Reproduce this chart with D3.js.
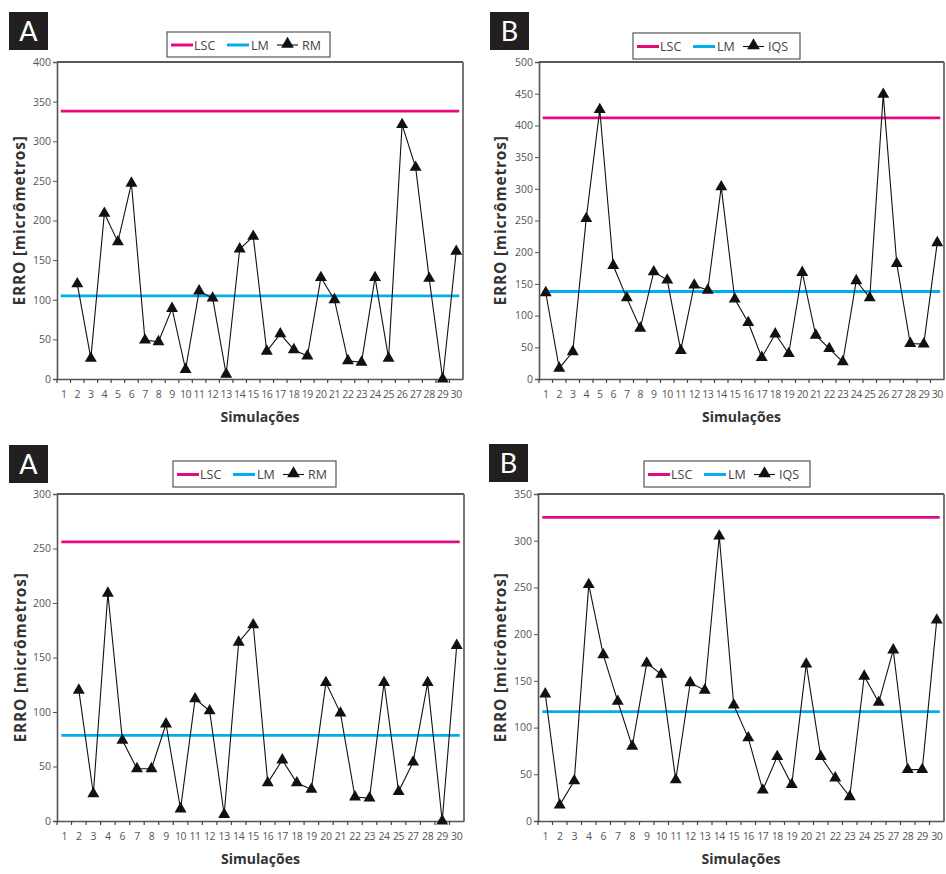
<!DOCTYPE html>
<html><head><meta charset="utf-8">
<script src="https://cdn.jsdelivr.net/npm/d3@7"></script>
<style>
html,body{margin:0;padding:0;background:#fff;}
svg{display:block;font-family:"Open Sans","DejaVu Sans",sans-serif;}
</style></head>
<body><svg id="c" width="946" height="874"></svg>
<script>
// ---- data ----
const simsFull = d3.range(1, 31).map(String);
const simsReduced = ["1","2","3","4","6","7","8","9","10","11","12","13","14","15","16","17","18","19","20","21","22","23","24","25","27","28","29","30"];

const rmFull = [null,120,26,209,173,247,49,47,89,12,111,102,6,164,180,35,57,37,29,128,100,23,21,128,26,321,267,127,0,161];
const iqsFull = [136,17,43,253,425,179,128,80,169,156,45,148,140,303,126,89,34,71,40,168,69,48,27,155,128,449,182,56,55,215];
const rmReduced = [null,120,25,209,74,48,48,89,11,112,101,6,164,180,35,56,35,29,127,99,22,21,127,27,54,127,0,161];
const iqsReduced = [136,17,43,253,178,128,80,169,157,44,148,140,305,124,89,33,69,39,168,69,46,26,155,127,183,55,55,215];

const lscValues = [338, 412, 256, 325];
const lmValues = [105, 138, 78.5, 117];
const yMaxValues = [400, 500, 300, 350];
const panelLetters = ["A", "B", "A", "B"];
const seriesNames = ["RM", "IQS", "RM", "IQS"];
const yTitle = "ERRO [micrômetros]";
const xTitle = "Simulações";

// ---- layout ----
const panels = [
  {cats: simsFull, vals: rmFull, box:[9,12], leg:[167,32,163,25], plot:[57,62,463,379], ytx:19},
  {cats: simsFull, vals: iqsFull, box:[490,12], leg:[633,33,167,26], plot:[539,62,944,379], ytx:500},
  {cats: simsReduced, vals: rmReduced, box:[9,445], leg:[173,461,163,26], plot:[57,494,464,821], ytx:20},
  {cats: simsReduced, vals: iqsReduced, box:[489,444], leg:[644,461,166,26], plot:[538,494,944,821], ytx:500}
];

const svg = d3.select("#c");
const MAG = "#e5097f", CYAN = "#00aeef";
const tri = d3.symbol().type(d3.symbolTriangle).size(62);
const triLeg = d3.symbol().type(d3.symbolTriangle).size(70);

panels.forEach((p, i) => {
  const [x0, y0, x1, y1] = p.plot;
  const g = svg.append("g");
  const x = d3.scaleBand().domain(p.cats).range([x0, x1]);
  const y = d3.scaleLinear().domain([0, yMaxValues[i]]).range([y1, y0]);

  // letter box
  g.append("rect").attr("x", p.box[0]).attr("y", p.box[1]).attr("width", 39).attr("height", 38).attr("fill", "#231f20");
  g.append("text").attr("x", p.box[0] + 19.5).attr("y", p.box[1] + 29).attr("text-anchor", "middle")
    .attr("fill", "#fff").attr("font-size", 27).attr("font-family", "Lato, 'Open Sans', sans-serif").text(panelLetters[i]);

  // frame top/right
  g.append("line").attr("x1", x0).attr("x2", x1).attr("y1", y0).attr("y2", y0).attr("stroke", "#222").attr("stroke-width", 1.3);
  g.append("line").attr("x1", x1).attr("x2", x1).attr("y1", y0).attr("y2", y1).attr("stroke", "#777").attr("stroke-width", 2);

  // y axis
  const ya = g.append("g").attr("transform", `translate(${x0},0)`)
    .call(d3.axisLeft(y).tickValues(d3.range(0, yMaxValues[i] + 1, 50)).tickSize(4).tickPadding(2));
  ya.select(".domain").attr("stroke", "#555").attr("stroke-width", 1.6);
  ya.selectAll(".tick line").attr("stroke", "#555");
  ya.selectAll("text").attr("fill", "#555").attr("font-size", 10.5).attr("font-family", "'Open Sans',sans-serif");

  // x axis
  const xa = g.append("g").attr("transform", `translate(0,${y1})`)
    .call(d3.axisBottom(x).tickSize(0).tickPadding(12));
  xa.select(".domain").attr("stroke", "#555").attr("stroke-width", 1.6);
  xa.selectAll("text").attr("fill", "#555").attr("font-size", 10.5).attr("letter-spacing", -0.4).attr("font-family", "'Open Sans',sans-serif");
  // tick marks between categories
  g.selectAll(".bt").data(p.cats.slice(0)).join("line")
    .attr("x1", d => x(d)).attr("x2", d => x(d)).attr("y1", y1).attr("y2", y1 + 4)
    .attr("stroke", "#444").attr("stroke-width", 1.2);

  // control lines
  const xs = x(p.cats[0]) + x.bandwidth() / 2 - 3, xe = x(p.cats[p.cats.length - 1]) + x.bandwidth() / 2 + 3;
  g.append("line").attr("x1", xs).attr("x2", xe).attr("y1", y(lscValues[i])).attr("y2", y(lscValues[i])).attr("stroke", MAG).attr("stroke-width", 2.8);
  g.append("line").attr("x1", xs).attr("x2", xe).attr("y1", y(lmValues[i])).attr("y2", y(lmValues[i])).attr("stroke", CYAN).attr("stroke-width", 2.8);

  // series
  const pts = p.cats.map((c, k) => ({c, v: p.vals[k]})).filter(d => d.v !== null);
  g.append("path").datum(pts)
    .attr("d", d3.line().x(d => x(d.c) + x.bandwidth() / 2).y(d => y(d.v)))
    .attr("fill", "none").attr("stroke", "#111").attr("stroke-width", 1.1);
  g.selectAll(".pt").data(pts).join("path")
    .attr("d", tri).attr("fill", "#111")
    .attr("transform", d => `translate(${x(d.c) + x.bandwidth() / 2},${y(d.v)})`);

  // titles
  g.append("text").attr("x", (x0 + x1) / 2).attr("y", y1 + 43).attr("text-anchor", "middle")
    .attr("font-size", 14).attr("font-weight", "bold").attr("fill", "#333").text(xTitle);
  g.append("text").attr("transform", `translate(${p.ytx + 6},${(y0 + y1) / 2}) rotate(-90)`).attr("text-anchor", "middle")
    .attr("font-size", 15.5).attr("font-weight", "bold").attr("letter-spacing", 0.8).attr("fill", "#333").text(yTitle);

  // legend
  const [lx, ly, lw, lh] = p.leg;
  g.append("rect").attr("x", lx).attr("y", ly).attr("width", lw).attr("height", lh).attr("fill", "#fff").attr("stroke", "#555").attr("stroke-width", 1.2);
  const cy = ly + lh / 2 + 0.5;
  const items = [
    {t: "LSC", c: MAG, x: lx + 4, len: 22, tx: lx + 27},
    {t: "LM", c: CYAN, x: lx + 60, len: 22, tx: lx + 84},
    {t: seriesNames[i], c: "#111", x: lx + 110, len: 21, tx: lx + 135, m: true}
  ];
  items.forEach(it => {
    g.append("line").attr("x1", it.x).attr("x2", it.x + it.len).attr("y1", cy).attr("y2", cy)
      .attr("stroke", it.c).attr("stroke-width", it.m ? 1.1 : 3);
    if (it.m) g.append("path").attr("d", triLeg).attr("fill", "#111").attr("transform", `translate(${it.x + it.len / 2},${cy - 1})`);
    g.append("text").attr("x", it.tx).attr("y", cy + 4.5).attr("font-size", 12.5).attr("fill", "#444").text(it.t);
  });
});
</script></body></html>
